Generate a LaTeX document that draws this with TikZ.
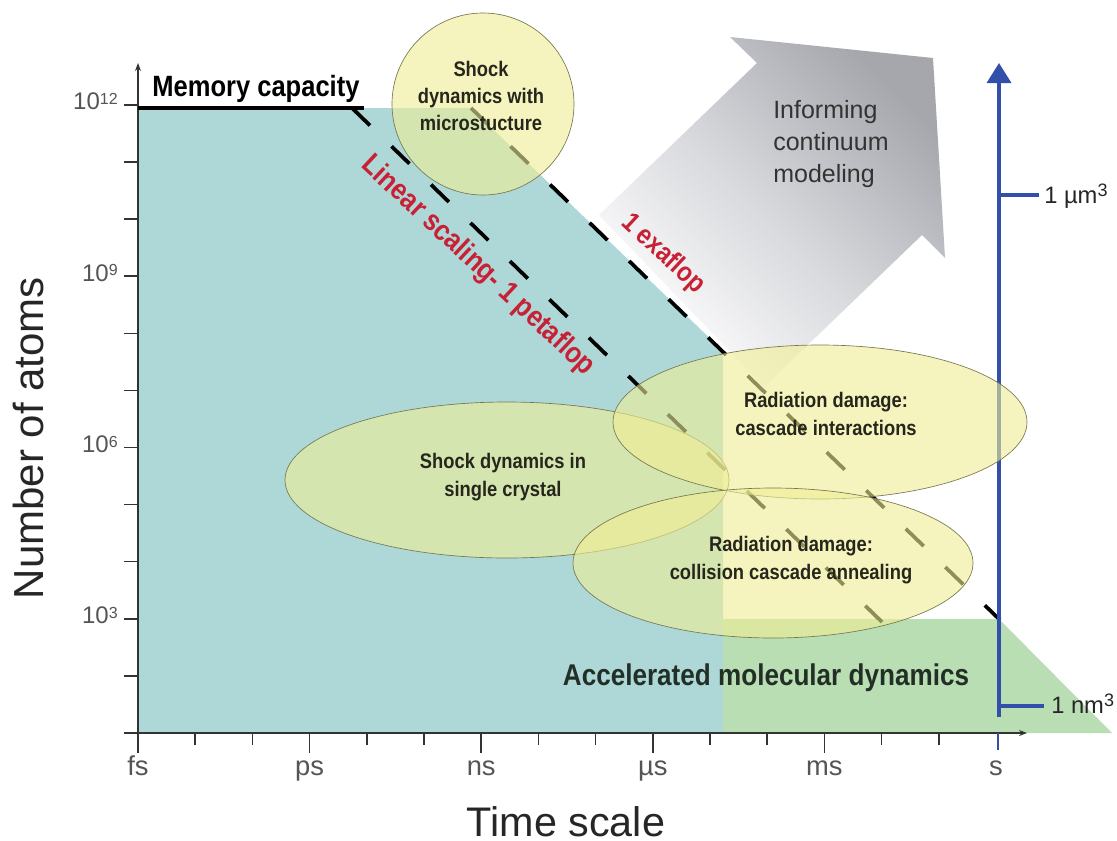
\documentclass[tikz,border=0pt]{standalone}
\usepackage{fontspec}
\setmainfont{Liberation Sans}
\newfontfamily\cb[FakeStretch=0.87]{Liberation Sans}
\usetikzlibrary{arrows.meta}
\definecolor{teal0}{RGB}{174,216,216}
\definecolor{green0}{RGB}{186,222,180}
\definecolor{ell}{RGB}{240,238,148}
\definecolor{ellline}{RGB}{120,120,80}
\definecolor{redlab}{RGB}{200,32,52}
\definecolor{blueax}{RGB}{50,80,170}
\definecolor{labgray}{RGB}{85,85,85}
\definecolor{txtdark}{RGB}{38,38,28}
\definecolor{arrowgray}{RGB}{165,167,173}
\definecolor{arrowmid}{RGB}{215,216,220}
\begin{document}
\begin{tikzpicture}[x=0.75pt,y=-0.75pt,
  axisline/.style={draw=black!80, line width=1.1pt},
  dashline/.style={draw=black, line width=2.8pt, dash pattern=on 18.75pt off 22.5pt},
  ellipsebox/.style={fill=ell, fill opacity=0.6, draw=ellline, line width=0.5pt},
  elltext/.style={text=txtdark, font=\cb\bfseries\fontsize{15.8}{20.5}\selectfont, align=center, inner sep=0pt},
  redtext/.style={text=redlab, font=\cb\bfseries\fontsize{22}{26}\selectfont, inner sep=0pt},
  ticklab/.style={text=labgray, font=\fontsize{20.5}{24}\selectfont, inner sep=0pt, anchor=base},
  ylab/.style={text=labgray, font=\fontsize{18}{20}\selectfont, inner sep=0pt, anchor=base east},
  bluetick/.style={draw=blueax, line width=2.4pt},
  unitlab/.style={text=black!85, font=\fontsize{17.8}{20}\selectfont, inner sep=0pt, anchor=base west}
]
\useasboundingbox (0,0) rectangle (1117,840);
\fill[white] (0,0) rectangle (1117,840);

% gray block arrow
\shade[top color=arrowgray, bottom color=white, middle color=arrowmid, shading angle=-45]
  (599,215) -- (757,63) -- (730,37) -- (933,58) -- (945,258) -- (922,235) -- (764,387) -- cycle;

% regions
\fill[teal0] (138,733) -- (138,108) -- (471,108) -- (723,351) -- (723,733) -- cycle;
\fill[green0] (723,619) -- (999,619) -- (1112,733) -- (723,733) -- cycle;

% axes
\coordinate (O) at (138,733);
\coordinate (Ytop) at (138,63);
\coordinate (Xend) at (1027,733);
\draw[axisline, -{Stealth[length=6pt,width=4.5pt]}] (O) -- (Ytop);
\draw[axisline, -{Stealth[length=6pt,width=4.5pt]}] (O) -- (Xend);
\foreach \k in {0,...,11} \draw[axisline] (124,{733-57.1*\k}) -- (138,{733-57.1*\k});
\foreach \k in {0,...,14} \draw[axisline] ({138+57.2*\k},733) -- ({138+57.2*\k},745);
\foreach \k in {0,3,...,12} \draw[axisline] ({138+57.2*\k},733) -- ({138+57.2*\k},753);

% y labels
\node[ylab] (y3)  at (118,{733-57.1*2+5}) {10\raisebox{4pt}{\fontsize{12}{12}\selectfont 3}};
\node[ylab] (y6)  at (118,{733-57.1*5+5}) {10\raisebox{4pt}{\fontsize{12}{12}\selectfont 6}};
\node[ylab] (y9)  at (118,{733-57.1*8+5}) {10\raisebox{4pt}{\fontsize{12}{12}\selectfont 9}};
\node[ylab] (y12) at (118,{733-57.1*11+5}) {10\raisebox{4pt}{\fontsize{12}{12}\selectfont 12}};

% x labels
\node[ticklab] (xfs) at (138,775) {fs};
\node[ticklab] (xps) at ({138+57.2*3},775) {ps};
\node[ticklab] (xns) at ({138+57.2*6},775) {ns};
\node[ticklab] (xus) at ({138+57.2*9},775) {µs};
\node[ticklab] (xms) at ({138+57.2*12},775) {ms};
\node[ticklab] (xs)  at ({138+57.2*15},775) {s};

% axis titles
\node[text=black!85, font=\fontsize{31.5}{34}\selectfont, rotate=90, inner sep=0pt] (ytitle) at (28,438) {Number of atoms};
\node[text=black!85, font=\fontsize{31}{34}\selectfont, inner sep=0pt, anchor=base] (xtitle) at (566,836) {Time scale};

% memory capacity
\coordinate (m0) at (138,108);
\coordinate (m1) at (364,108);
\draw[line width=2.8pt] (m0) -- (m1);
\node[font=\cb\bfseries\fontsize{22}{24}\selectfont, inner sep=0pt, anchor=base] (mem) at (256,96) {Memory capacity};

% scaling lines
\coordinate (pf0) at (352,108);
\coordinate (pf1) at (882,622);
\coordinate (ef0) at (471,108);
\coordinate (ef1) at (1000,620);
\draw[dashline] (pf0) -- (pf1);
\draw[dashline] (ef0) -- (ef1);

% blue size axis
\coordinate (b0) at (999,717);
\coordinate (b1) at (999,63);
\draw[draw=blueax, line width=2.6pt, -{Triangle[length=15pt,width=18pt]}] (b0) -- (b1);
\coordinate (um0) at (999,195);
\coordinate (um1) at (1039,195);
\coordinate (nm0) at (999,706);
\coordinate (nm1) at (1044,706);
\draw[bluetick] (um0) -- (um1);
\draw[bluetick] (nm0) -- (nm1);
\draw[draw=blueax, line width=1.6pt] (998,733) -- (998,750);
\node[unitlab] (um) at (1044,203) {1 µm\raisebox{4.8pt}{\fontsize{13.5}{14}\selectfont 3}};
\node[unitlab] (nm) at (1051,713) {1 nm\raisebox{4.8pt}{\fontsize{13.5}{14}\selectfont 3}};

% ellipses
\path[ellipsebox] (483,104) circle[radius=91];
\path[ellipsebox] (507,480) ellipse[x radius=222, y radius=78];
\path[ellipsebox] (820,422) ellipse[x radius=207, y radius=77];
\path[ellipsebox] (773,563) ellipse[x radius=200, y radius=75];

% ellipse texts
\node[elltext] (e1) at (481,96) {Shock\\dynamics with\\microstucture};
\node[elltext] (e2) at (503,477) {Shock dynamics in\\single crystal};
\node[elltext] (e3) at (826,414) {Radiation damage:\\cascade interactions};
\node[elltext] (e4) at (791,560) {Radiation damage:\\collision cascade annealing};

% red labels
\node[redtext, rotate=-43] (lin) at (478,266) {Linear scaling- 1 petaflop};
\node[redtext, font=\cb\bfseries\fontsize{20.5}{24}\selectfont, rotate=-43] (exa) at (663,254) {1 exaflop};

% other texts
\node[text=black!80, font=\fontsize{18.75}{24}\selectfont, align=left, inner sep=0pt, anchor=west] (inf) at (773,144) {Informing\\continuum\\modeling};
\node[text=txtdark!90!teal, font=\cb\bfseries\fontsize{22.5}{26}\selectfont, inner sep=0pt] (amd) at (766,678) {Accelerated molecular dynamics};
\end{tikzpicture}
\end{document}
